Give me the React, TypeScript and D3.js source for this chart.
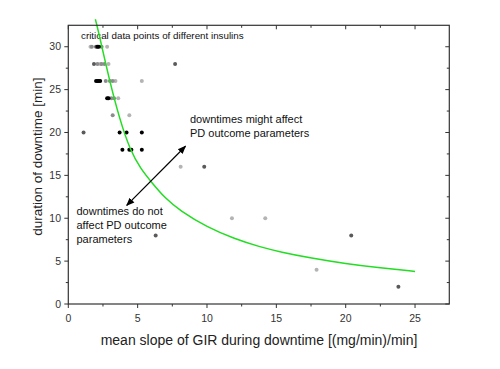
import React from "react";
import * as d3 from "d3";

const blackX = [2.1, 2.2, 2.0, 2.1, 2.2, 2.3, 2.8, 2.9, 3.7, 4.2, 5.3, 3.9, 4.4, 4.55, 5.3];
const blackY = [30, 30, 26, 26, 26, 26, 24, 24, 20, 20, 20, 18, 18, 18, 18];

const darkX = [1.85, 1.1, 9.8, 6.3, 20.4, 23.8, 7.7, 2.0];
const darkY = [28, 20, 16, 8, 8, 2, 28, 30];

const grayX = [1.7, 2.4, 2.1, 2.4, 2.6, 2.7, 3.0, 3.2, 3.1, 3.3, 3.2];
const grayY = [30, 30, 28, 28, 28, 26, 26, 26, 24, 24, 22];

const lightX = [1.6, 2.8, 2.9, 3.4, 3.6, 4.4, 5.3, 8.1, 11.8, 14.2, 17.9, 2.3];
const lightY = [30, 30, 28, 26, 24, 22, 26, 16, 10, 10, 4, 28];

// green boundary line
const curveX = [1.95, 2.16, 2.96, 3.73, 4.45, 5.2, 6.0, 7.0, 8.05, 10, 12, 13.8, 15.3, 17.5, 20, 22.5, 25];
const curveY = [33.2, 31.9, 26.1, 21.4, 18.0, 15.8, 14.2, 12.3, 10.9, 8.95, 7.6, 6.66, 6.06, 5.35, 4.7, 4.2, 3.8];

const xTicks = [0, 5, 10, 15, 20, 25];
const yTicks = [0, 5, 10, 15, 20, 25, 30];

const W = 500;
const H = 369;
const m = { top: 25.3, right: 50.7, bottom: 65, left: 68.3 };

const App = () => {
  const x = d3.scaleLinear().domain([0, 27.47]).range([m.left, W - m.right]);
  const y = d3.scaleLinear().domain([0, 32.5]).range([H - m.bottom, m.top]);

  const line = d3
    .line<number>()
    .x((d, i) => x(curveX[i]))
    .y((d, i) => y(curveY[i]))
    .curve(d3.curveBasis);

  const groups = [
    { xs: lightX, ys: lightY, c: "#b4b4b4" },
    { xs: grayX, ys: grayY, c: "#8c8c8c" },
    { xs: darkX, ys: darkY, c: "#5a5a5a" },
    { xs: blackX, ys: blackY, c: "#000" },
  ];

  const minorX = d3.range(0, 27.5, 2.5);
  const minorY = d3.range(0, 32.5, 2.5);
  const x0 = m.left, x1 = W - m.right, y0 = H - m.bottom, y1 = m.top;
  const axisCol = "#333";

  // annotation arrow, in data units
  const a1 = [4.21, 11.5];
  const a2 = [8.45, 18.4];

  return (
    <div style={{ position: "absolute", left: 0, top: 0 }}>
      <svg width={W} height={H} style={{ display: "block", background: "#fff" }} fontFamily="'Liberation Sans', Arial, sans-serif">
        <defs>
          <marker id="ah" viewBox="0 0 10 10" refX="9" refY="5" markerWidth="7" markerHeight="7" orient="auto-start-reverse">
            <path d="M0,1 L10,5 L0,9 z" fill="#000" />
          </marker>
        </defs>

        <text x={81} y={38.5} fontSize={9.8} fill="#111">critical data points of different insulins</text>

        {groups.map((g, gi) => (
          <g key={gi}>
            {g.xs.map((v, i) => (
              <circle key={i} cx={x(v)} cy={y(g.ys[i])} r={2} fill={g.c} />
            ))}
          </g>
        ))}

        <path d={line(curveX) || ""} fill="none" stroke="#22dd22" strokeWidth={1.5} />

        <line
          x1={x(a1[0])} y1={y(a1[1])} x2={x(a2[0])} y2={y(a2[1])}
          stroke="#000" strokeWidth={1.2}
          markerStart="url(#ah)" markerEnd="url(#ah)"
        />

        <text fontSize={11} fill="#111">
          <tspan x={190} y={122.5}>downtimes might affect</tspan>
          <tspan x={190} y={137}>PD outcome parameters</tspan>
        </text>
        <text fontSize={11} fill="#111">
          <tspan x={76.5} y={215}>downtimes do not</tspan>
          <tspan x={76.5} y={229}>affect PD outcome</tspan>
          <tspan x={76.5} y={243}>parameters</tspan>
        </text>

        {/* frame */}
        <rect x={x0} y={y1} width={x1 - x0} height={y0 - y1} fill="none" stroke={axisCol} strokeWidth={1.2} />

        {minorX.map((t, i) => {
          const major = t % 5 === 0;
          const l = major ? 4 : 2.5;
          return (
            <g key={"mx" + i}>
              <line x1={x(t)} x2={x(t)} y1={y0} y2={y0 + l} stroke={axisCol} />
              <line x1={x(t)} x2={x(t)} y1={y1} y2={y1 + l} stroke={axisCol} />
            </g>
          );
        })}
        {minorY.map((t, i) => {
          const major = t % 5 === 0;
          const l = major ? 4 : 2.5;
          return (
            <g key={"my" + i}>
              <line x1={x0 - l} x2={x0} y1={y(t)} y2={y(t)} stroke={axisCol} />
              <line x1={x1 - l} x2={x1} y1={y(t)} y2={y(t)} stroke={axisCol} />
            </g>
          );
        })}

        {xTicks.map((t) => (
          <text key={"xt" + t} x={x(t)} y={322} fontSize={10.5} textAnchor="middle" fill="#333">{t}</text>
        ))}
        {yTicks.map((t) => (
          <text key={"yt" + t} x={61} y={y(t) + 3.5} fontSize={10.5} textAnchor="end" fill="#333">{t}</text>
        ))}

        <text x={259} y={345} fontSize={14} textAnchor="middle" fill="#222">
          mean slope of GIR during downtime [(mg/min)/min]
        </text>
        <text transform={`translate(42,${(y0 + y1) / 2 - 8}) rotate(-90)`} fontSize={13.5} textAnchor="middle" fill="#222">
          duration of downtime [min]
        </text>
      </svg>
    </div>
  );
};

export default App;
